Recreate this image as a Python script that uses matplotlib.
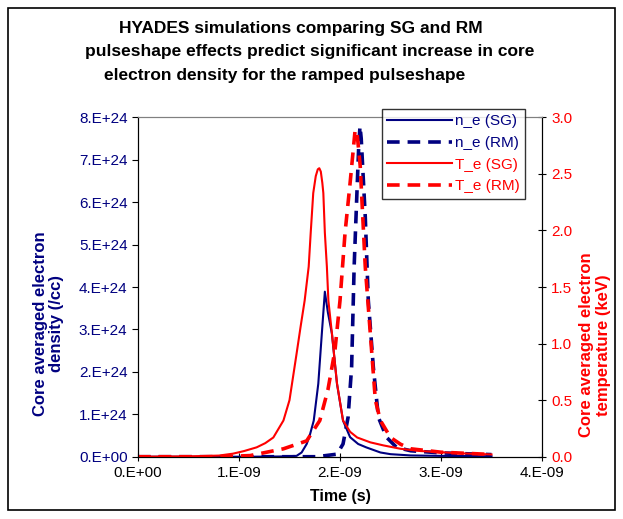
import matplotlib
matplotlib.use("Agg")
import matplotlib.pyplot as plt
from matplotlib.patches import Rectangle
from matplotlib.lines import Line2D

plt.rcParams["font.family"] = ["Liberation Sans", "DejaVu Sans"]

NAVY = "#000080"
RED = "#FF0000"

# time in units of 1e-9 s
t_ne_sg = [0, 1.1, 1.4, 1.57, 1.62, 1.67, 1.70, 1.74, 1.785, 1.82, 1.85, 1.88, 1.92,
           1.97, 2.03, 2.10, 2.18, 2.26, 2.4, 2.5, 2.7, 3.0, 3.5]
ne_sg = [0, 0, 0.005, 0.02, 0.1, 0.30, 0.5, 0.85, 1.72, 2.9, 3.89, 3.4, 2.9,
         1.72, 0.85, 0.46, 0.30, 0.22, 0.10, 0.06, 0.03, 0.02, 0.01]

t_ne_rm = [0, 1.77, 1.97, 2.03, 2.08, 2.115, 2.14, 2.165, 2.185, 2.198, 2.21, 2.25,
           2.28, 2.33, 2.38, 2.46, 2.56, 2.7, 3.0, 3.5]
ne_rm = [0, 0, 0.06, 0.30, 0.93, 2.11, 4.48, 6.06, 7.3, 7.79, 7.5, 5.66,
         3.69, 2.11, 0.93, 0.46, 0.22, 0.14, 0.09, 0.05]

t_te_sg = [0, 0.5, 0.8, 0.94, 1.05, 1.175, 1.26, 1.34, 1.44, 1.50, 1.57, 1.61, 1.65,
           1.69, 1.71, 1.735, 1.76, 1.78, 1.795, 1.81, 1.825, 1.835, 1.85, 1.87, 1.885,
           1.92, 1.97, 2.03, 2.10, 2.17, 2.30, 2.43, 2.6, 2.8, 3.0, 3.2, 3.5]
te_sg = [0, 0.003, 0.01, 0.027, 0.05, 0.083, 0.12, 0.17, 0.32, 0.50, 0.91, 1.15, 1.38,
         1.68, 1.98, 2.33, 2.48, 2.54, 2.55, 2.52, 2.42, 2.33, 1.98, 1.68, 1.38,
         1.09, 0.65, 0.32, 0.22, 0.17, 0.127, 0.10, 0.07, 0.05, 0.04, 0.03, 0.02]

t_te_rm = [0, 0.8, 1.11, 1.44, 1.67, 1.80, 1.88, 1.95, 2.0, 2.05, 2.10, 2.15, 2.17,
           2.20, 2.25, 2.30, 2.35, 2.40, 2.5, 2.6, 2.7, 3.0, 3.5]
te_rm = [0, 0, 0.01, 0.07, 0.14, 0.32, 0.59, 0.94, 1.38, 1.98, 2.42, 2.89, 2.85,
         2.57, 1.68, 1.09, 0.50, 0.32, 0.17, 0.11, 0.07, 0.04, 0.02]

x_ticks = [0, 1, 2, 3, 4]
x_labels = ["0.E+00", "1.E-09", "2.E-09", "3.E-09", "4.E-09"]
ne_ticks = [0, 1, 2, 3, 4, 5, 6, 7, 8]
ne_labels = [f"{v}.E+{24 if v else 0:02d}" for v in ne_ticks]
te_ticks = [0, 0.5, 1.0, 1.5, 2.0, 2.5, 3.0]
te_labels = [f"{v:.1f}" for v in te_ticks]

fig = plt.figure(figsize=(6.23, 5.19), dpi=100)
ax = fig.add_axes([0.2215, 0.120, 0.6485, 0.654])
ax2 = ax.twinx()

dash = (0, (3.5, 2.2))
ax.plot(t_ne_sg, ne_sg, color=NAVY, lw=1.5)
ax.plot(t_ne_rm, ne_rm, color=NAVY, lw=2.6, ls=dash)
ax2.plot(t_te_sg, te_sg, color=RED, lw=1.5)
ax2.plot(t_te_rm, te_rm, color=RED, lw=2.6, ls=dash)

ax.set_xlim(0, 4)
ax.set_ylim(0, 8)
ax2.set_ylim(0, 3)
ax.set_xticks(x_ticks, x_labels, fontsize=11)
ax.set_yticks(ne_ticks, ne_labels, fontsize=11, color=NAVY)
ax2.set_yticks(te_ticks, te_labels, fontsize=11, color=RED)
ax.tick_params(axis="x", direction="inout", length=6, pad=4)
ax.tick_params(axis="y", direction="out", length=4)
ax2.tick_params(axis="y", direction="inout", length=6)

for a in (ax, ax2):
    a.spines["top"].set_color("#808080")
    a.spines["left"].set_color("black")
    a.spines["right"].set_color("black")
    a.spines["bottom"].set_color("black")

ax.set_xlabel("Time (s)", fontsize=11.5, fontweight="bold", labelpad=6)

fig.text(0.078, 0.376, "Core averaged electron\ndensity (/cc)", rotation=90,
         ha="center", va="center", fontsize=12, fontweight="bold", color=NAVY,
         linespacing=1.1)
fig.text(0.955, 0.335, "Core averaged electron\ntemperature (keV)", rotation=90,
         ha="center", va="center", fontsize=12, fontweight="bold", color=RED,
         linespacing=1.1)

fig.text(301 / 623, 0.946, "HYADES simulations comparing SG and RM",
         ha="center", va="center", fontsize=12.5, fontweight="bold")
fig.text(310 / 623, 0.900, "pulseshape effects predict significant increase in core",
         ha="center", va="center", fontsize=12.5, fontweight="bold")
fig.text(285 / 623, 0.855, "electron density for the ramped pulseshape",
         ha="center", va="center", fontsize=12.5, fontweight="bold")

handles = [
    Line2D([], [], color=NAVY, lw=1.5),
    Line2D([], [], color=NAVY, lw=2.6, ls=dash),
    Line2D([], [], color=RED, lw=1.5),
    Line2D([], [], color=RED, lw=2.6, ls=dash),
]
labels = ["n_e (SG)", "n_e (RM)", "T_e (SG)", "T_e (RM)"]
leg = ax2.legend(handles, labels, loc="upper left", bbox_to_anchor=(382 / 623, 1 - 109 / 519),
                 bbox_transform=fig.transFigure, fontsize=11, frameon=True, fancybox=False,
                 borderpad=0.35, labelspacing=0.5, handlelength=4.2, handletextpad=0.2,
                 borderaxespad=0)
leg.get_frame().set_edgecolor("black")
leg.get_frame().set_linewidth(1.0)
for txt, c in zip(leg.get_texts(), [NAVY, NAVY, RED, RED]):
    txt.set_color(c)

fig.patches.append(Rectangle((8 / 623, 1 - 510 / 519), 607 / 623, 502 / 519,
                             transform=fig.transFigure, fill=False, edgecolor="black", lw=1.2))

fig.savefig("out.png", dpi=100)
